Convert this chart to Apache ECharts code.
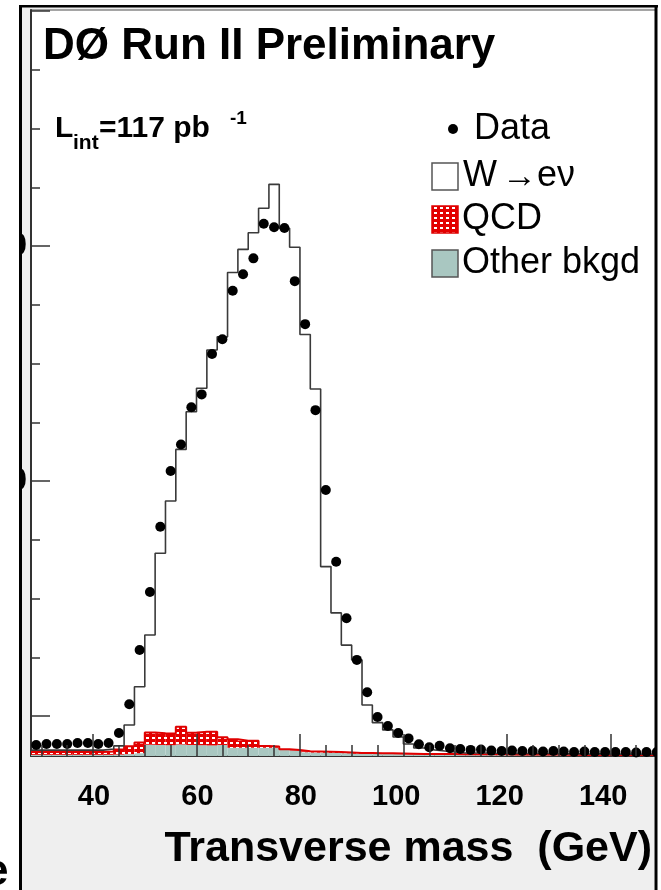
<!DOCTYPE html>
<html><head><meta charset="utf-8">
<script src="https://cdn.jsdelivr.net/npm/echarts@6/dist/echarts.min.js"></script>
<style>
html,body{margin:0;padding:0;background:#fff;}
#bg{position:absolute;left:22px;top:7px;width:632px;height:883px;background:#efefef;}
#chart{position:absolute;left:0;top:0;width:661px;height:890px;}
</style></head><body>
<div id="bg"></div><div id="chart"></div>
<script>
// ---- data (2 GeV bins, low edges) ----
const binLow = [28,30,32,34,36,38,40,42,44,46,48,50,52,54,56,58,60,62,64,66,68,70,72,74,76,78,80,82,84,86,88,90,92,94,96,98,100,102,104,106,108,110,112,114,116,118,120,122,124,126,128,130,132,134,136,138,140,142,144,146,148];
const binWidth = 2;
const dataCounts = [47,51,51,51,55,55,51,55, 98,220,451,698,976,1213,1326,1484, 1539,1711,1774,1980,2050,2118,2265,2250, 2247,2021,1838,1472,1132,827,586,409, 271,166,128,98,75,50,37,44, 33,30,26,28,23,21,23,21, 21,19,21,19,17,19,17,17, 17,17,15,17,17];
const wSignal = [8,8,8,8,8,8,8,11, 15,91,238,415,766,989,1180,1366, 1462,1625,1704,1987,2091,2162,2288,2393, 2217,2139,1774,1543,788,592,457,396, 204,130,99,70,41,25,18,13, 9,6,6,6,5,5,5,5, 5,5,4,4,4,4,4,4, 4,4,4,4,4];
const qcdBkg = [12,12,12,12,12,12,12,14, 22,33,45,52,50,50,76,52, 57,58,33,36,30,30,8,5, 3,2,4,4,4,4,3,3, 3,3,3,3,3,2,2,2, 2,2,2,2,2,2,2,2, 2,2,2,1,2,1,2,1, 1,1,1,1,1];
const otherBkg = [5,5,5,5,5,5,5,5, 6,8,12,48,47,46,49,47, 46,45,47,35,35,35,35,35, 26,24,16,15,14,13,12,10, 10,9,9,8,7,7,6,6, 6,5,5,5,5,5,4,4, 4,4,4,4,3,3,3,3, 3,3,3,3,3];
const xTickLabels = ['40','60','80','100','120','140'];
const yLabelValues = [1000, 2000];

// ---- derived stacks ----
const qcdTop = otherBkg.map((o,i)=>o+qcdBkg[i]);
const totTop = qcdTop.map((q,i)=>q+wSignal[i]);
const lastHi = binLow[binLow.length-1]+binWidth;
const stepData = arr => binLow.map((x,i)=>[x,arr[i]]).concat([[lastHi,arr[arr.length-1]]]);

// QCD hatch pattern
const pat = document.createElement('canvas');
pat.width = 6; pat.height = 5;
const pc = pat.getContext('2d');
pc.fillStyle = '#e30000'; pc.fillRect(0,0,6,5);
pc.fillStyle = '#ffffff'; pc.fillRect(2,2,3,2);
const qcdFill = {image: pat, repeat: 'repeat'};
const teal = '#a9c7c1';

const bandItem = (lo, hi) => binLow.map((x,i)=>[x, x+binWidth, lo[i], hi[i]]);
const rectRender = fill => function(params, api){
  const p0 = api.coord([api.value(0), api.value(3)]);
  const p1 = api.coord([api.value(1), api.value(2)]);
  return {type:'rect', shape:{x:p0[0], y:p0[1], width:p1[0]-p0[0], height:p1[1]-p0[1]}, style:{fill: fill}};
};

const FONT = '"Liberation Sans", Arial, Helvetica, sans-serif';
const pxPerGeV = 631/122;
const chart = echarts.init(document.getElementById('chart'), null, {renderer:'canvas'});
function txt(text, x, y, size, weight, align, extra){
  return Object.assign({type:'text', z:120, style:{text:text, x:x, y:y,
    font: (weight||'normal')+' '+size+'px '+FONT, fill:'#000',
    textAlign: align||'left', textVerticalAlign:'middle', align: align||'left', verticalAlign:'middle'}}, extra||{});
}
chart.setOption({
  backgroundColor: 'transparent',
  animation: false,
  grid: [
    {left:31, top:10, width:631, height:746, show:true, backgroundColor:'#fff', borderColor:'#888', borderWidth:1.5, containLabel:false, outerBoundsMode:'none'},
    {left:31-8*pxPerGeV, top:10, width:140*pxPerGeV, height:746, containLabel:false, outerBoundsMode:'none'},
    {left:31, top:11, width:631, height:705, containLabel:false, outerBoundsMode:'none'}
  ],
  xAxis: [
    {gridIndex:0, type:'value', min:28, max:150, axisLine:{show:true, lineStyle:{color:'#333', width:2}}, axisTick:{show:false}, axisLabel:{show:false}, splitLine:{show:false}},
    {gridIndex:1, type:'value', min:20, max:160, interval:20, z:10,
      axisLine:{show:false},
      axisTick:{show:true, inside:true, length:22, lineStyle:{color:'#333', width:1.5}},
      minorTick:{show:true, splitNumber:4, length:11, lineStyle:{color:'#333', width:1.5}},
      axisLabel:{show:true, margin:26, color:'#000', fontFamily:FONT, fontWeight:'bold', fontSize:29,
        formatter: v => xTickLabels.includes(String(v)) ? '{v|' + v + '}' : '',
        rich:{v:{width:34, align:'right', color:'#000', fontFamily:FONT, fontWeight:'bold', fontSize:29}}},
      splitLine:{show:false}},
    {gridIndex:2, type:'value', min:28, max:150, show:false}
  ],
  yAxis: [
    {gridIndex:0, type:'value', min:0, max:3175, axisLine:{show:true, lineStyle:{color:'#333', width:2}}, axisTick:{show:false}, axisLabel:{show:false}, splitLine:{show:false}},
    {gridIndex:1, type:'value', min:0, max:3175, show:false},
    {gridIndex:2, type:'value', min:0, max:3000, interval:1000, z:10,
      axisLine:{show:false},
      axisTick:{show:true, inside:true, length:19, lineStyle:{color:'#333', width:1.5}},
      minorTick:{show:true, splitNumber:4, length:9, lineStyle:{color:'#333', width:1.5}},
      axisLabel:{show:true, margin:4, color:'#000', fontFamily:FONT, fontWeight:'bold', fontSize:32,
        formatter: v => yLabelValues.includes(v) ? String(v) : ''},
      splitLine:{show:false}}
  ],
  series: [
    {name:'Other bkgd', type:'custom', xAxisIndex:0, yAxisIndex:0, z:2, clip:true,
      renderItem: rectRender(teal), encode:{x:[0,1], y:[2,3]}, data: bandItem(binLow.map(()=>0), otherBkg)},
    {name:'QCD', type:'custom', xAxisIndex:0, yAxisIndex:0, z:3, clip:true,
      renderItem: rectRender(qcdFill), encode:{x:[0,1], y:[2,3]}, data: bandItem(otherBkg, qcdTop)},
    {name:'QCD outline', type:'line', step:'end', xAxisIndex:0, yAxisIndex:0, z:4, symbol:'none',
      lineStyle:{color:'#e00000', width:2}, data: stepData(qcdTop)},
    {name:'W \u2192 e\u03bd', type:'line', step:'end', xAxisIndex:0, yAxisIndex:0, z:5, symbol:'none',
      lineStyle:{color:'#3a3a3a', width:1.6}, data: stepData(totTop)},
    {name:'Data', type:'scatter', xAxisIndex:0, yAxisIndex:0, z:6, symbol:'circle', symbolSize:10,
      itemStyle:{color:'#000', opacity:1}, data: binLow.map((x,i)=>[x+binWidth/2, dataCounts[i]])}
  ],
  graphic: { elements: [
    // covers & frame
    {type:'rect', z:100, shape:{x:0, y:0, width:19.5, height:890}, style:{fill:'#fff'}},
    {type:'rect', z:100, shape:{x:657, y:0, width:10, height:890}, style:{fill:'#fff'}},
    {type:'rect', z:100, shape:{x:0, y:0, width:661, height:5}, style:{fill:'#fff'}},
    {type:'rect', z:101, shape:{x:19, y:5, width:3, height:885}, style:{fill:'#000'}},
    {type:'rect', z:101, shape:{x:19, y:5, width:639, height:2.5}, style:{fill:'#000'}},
    {type:'rect', z:101, shape:{x:654.5, y:5, width:3, height:885}, style:{fill:'#000'}},
    // partial glyph at lower-left edge
    txt('e', -16, 873, 44, 'bold', 'left'),
    // titles
    txt('D\u00d8 Run II Preliminary', 43, 47, 44, 'bold', 'left'),
    txt('L', 55, 129, 30, 'bold', 'left'),
    txt('int', 73, 143, 21, 'bold', 'left'),
    txt('=117 pb', 99, 129, 30, 'bold', 'left'),
    txt('-1', 230, 119, 19, 'bold', 'left'),
    // legend
    {type:'circle', z:120, shape:{cx:453, cy:129, r:5}, style:{fill:'#000'}},
    txt('Data', 474, 129, 36, 'normal', 'left'),
    {type:'rect', z:120, shape:{x:432, y:163, width:26, height:27}, style:{fill:'#fff', stroke:'#555', lineWidth:1.5}},
    txt('W', 463, 176, 36, 'normal', 'left'),
    txt('\u2192', 502, 177, 35, 'normal', 'left'),
    txt('e\u03bd', 537, 176, 36, 'normal', 'left'),
    {type:'rect', z:120, shape:{x:432, y:206, width:26, height:27}, style:{fill:qcdFill, stroke:'#e00000', lineWidth:1.5}},
    txt('QCD', 462, 219, 36, 'normal', 'left'),
    {type:'rect', z:120, shape:{x:432, y:250, width:26, height:27}, style:{fill:teal, stroke:'#555', lineWidth:1.5}},
    txt('Other bkgd', 462, 263, 36, 'normal', 'left'),
    // x title
    txt('Transverse mass  (GeV)', 652, 849, 43, 'bold', 'right')
  ]}
});
</script></body></html>
